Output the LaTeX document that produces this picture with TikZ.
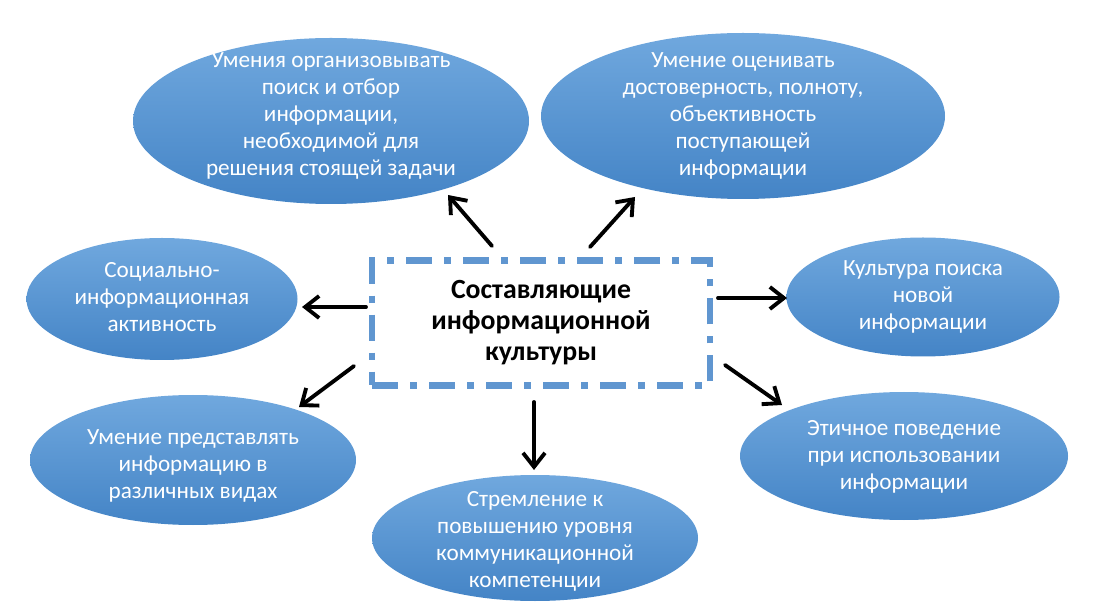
\documentclass[tikz,border=0pt]{standalone}
\usepackage{fontspec}
\setmainfont{Carlito}
\usetikzlibrary{shapes.geometric}
\usetikzlibrary{arrows.meta}
\usetikzlibrary{calc}

\definecolor{ovaltop}{RGB}{112,168,222}
\definecolor{ovalbot}{RGB}{68,132,198}
\definecolor{frameblue}{RGB}{96,150,208}

\tikzset{
 oval/.style={ellipse, top color=ovaltop, bottom color=ovalbot, inner sep=0pt},
 ovaltext/.style={text=white, align=center, font=\fontsize{13.2}{15.4}\selectfont},
 framebox/.style={draw=frameblue, line width=3.6pt, dash pattern=on 0.52cm off 0.24cm on 0.14cm off 0.24cm,
   minimum width=6.76cm, minimum height=2.5cm, align=center, font=\fontsize{15.8}{17.6}\selectfont\bfseries},
 pointer/.style={-{Straight Barb[length=2.8mm,width=4.4mm]}, line width=2.2pt, line cap=round}
}

\begin{document}
\begin{tikzpicture}
 \useasboundingbox (0,0) rectangle (22,-12.28);

 % center
 \node[framebox] (core) at (10.82,-6.46) {Составляющие\\информационной\\культуры};

 % ovals
 \node[oval, minimum width=7.92cm, minimum height=3.32cm] (o1) at (6.62,-2.42) {};
 \node[oval, minimum width=8.08cm, minimum height=3.32cm] (o2) at (14.86,-2.32) {};
 \node[oval, minimum width=5.42cm, minimum height=2.44cm] (o3) at (3.24,-5.98) {};
 \node[oval, minimum width=5.46cm, minimum height=2.38cm] (o4) at (18.46,-5.94) {};
 \node[oval, minimum width=6.52cm, minimum height=2.6cm] (o5) at (3.86,-9.2) {};
 \node[oval, minimum width=6.56cm, minimum height=2.56cm] (o6) at (18.08,-9.12) {};
 \node[oval, minimum width=6.52cm, minimum height=2.52cm] (o7) at (10.7,-10.76) {};

 \node[ovaltext] (t1) at (6.62,-2.32) {Умения организовывать\\поиск и отбор\\информации,\\необходимой для\\решения стоящей задачи};
 \node[ovaltext] (t2) at (14.86,-2.32) {Умение оценивать\\достоверность, полноту,\\объективность\\поступающей\\информации};
 \node[ovaltext] (t3) at (3.24,-5.94) {Социально-\\информационная\\активность};
 \node[ovaltext] (t4) at (18.46,-5.94) {Культура поиска\\новой\\информации};
 \node[ovaltext] (t5) at (3.86,-9.32) {Умение представлять\\информацию в\\различных видах};
 \node[ovaltext] (t6) at (18.08,-9.14) {Этичное поведение\\при использовании\\информации};
 \node[ovaltext] (t7) at (10.7,-10.82) {Стремление к\\повышению уровня\\коммуникационной\\компетенции};

 % arrow ends
 \coordinate (s1) at (9.84,-4.92);  \coordinate (e1) at (8.96,-3.9);
 \coordinate (s2) at (11.8,-4.94);  \coordinate (e2) at (12.7,-3.94);
 \coordinate (s3) at (7.32,-6.14);  \coordinate (e3) at (6.04,-6.14);
 \coordinate (s4) at (7.08,-7.32);  \coordinate (e4) at (5.98,-8.14);
 \coordinate (s5) at (10.68,-8.04); \coordinate (e5) at (10.68,-9.4);
 \coordinate (s6) at (14.36,-5.96); \coordinate (e6) at (15.74,-5.96);
 \coordinate (s7) at (14.5,-7.3);   \coordinate (e7) at (15.64,-8.1);

 \foreach \i in {1,...,7}
  \draw[pointer] (s\i) -- (e\i);
\end{tikzpicture}
\end{document}
